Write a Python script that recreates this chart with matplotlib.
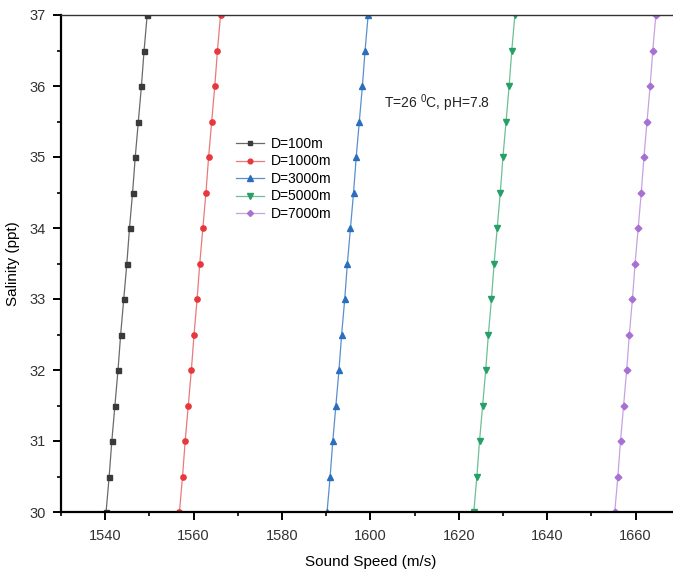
import matplotlib
matplotlib.use("Agg")
import matplotlib.pyplot as plt
from matplotlib.ticker import MultipleLocator

plt.rcParams['font.family'] = ['Liberation Sans', 'DejaVu Sans']
plt.rcParams['mathtext.fontset'] = 'custom'
plt.rcParams['mathtext.rm'] = 'Liberation Sans'
plt.rcParams['mathtext.it'] = 'Liberation Sans'

salinity = [30.0, 30.5, 31.0, 31.5, 32.0, 32.5, 33.0, 33.5, 34.0, 34.5, 35.0, 35.5, 36.0, 36.5, 37.0]
speed_100 = [1540.2, 1540.9, 1541.5, 1542.2, 1542.9, 1543.5, 1544.2, 1544.9, 1545.5, 1546.2, 1546.8, 1547.5, 1548.2, 1548.8, 1549.5]
speed_1000 = [1556.8, 1557.5, 1558.1, 1558.8, 1559.5, 1560.1, 1560.8, 1561.4, 1562.1, 1562.8, 1563.4, 1564.1, 1564.8, 1565.4, 1566.1]
speed_3000 = [1590.2, 1590.9, 1591.5, 1592.2, 1592.9, 1593.5, 1594.2, 1594.8, 1595.5, 1596.2, 1596.8, 1597.5, 1598.2, 1598.8, 1599.5]
speed_5000 = [1623.4, 1624.1, 1624.7, 1625.4, 1626.1, 1626.7, 1627.4, 1628.0, 1628.7, 1629.4, 1630.0, 1630.7, 1631.4, 1632.0, 1632.7]
speed_7000 = [1655.3, 1656.0, 1656.6, 1657.3, 1658.0, 1658.6, 1659.3, 1659.9, 1660.6, 1661.3, 1661.9, 1662.6, 1663.3, 1663.9, 1664.6]
labels = ['D=100m', 'D=1000m', 'D=3000m', 'D=5000m', 'D=7000m']
annotation = r'T=26 $^{\mathrm{0}}$C, pH=7.8'

series = [speed_100, speed_1000, speed_3000, speed_5000, speed_7000]
colors = ['#3a3a3a', '#e8373c', '#2a6ebd', '#27a067', '#a770d2']
line_colors = ['#6a6a6a', '#e87a7d', '#5a8fcc', '#6cbf97', '#c5a2e2']
markers = ['s', 'o', '^', 'v', 'D']
msizes = [3.6, 3.8, 4.4, 4.4, 3.4]

fig = plt.figure(figsize=(6.73, 5.73), dpi=100)
ax = fig.add_axes([61/673, 1 - 512/573, 1 - 61/673 + 0.01, (512 - 15)/573])

for s, c, lc, m, ms, lab in zip(series, colors, line_colors, markers, msizes, labels):
    ax.plot(s, salinity, color=lc, lw=0.9, marker=m, markersize=ms,
            markerfacecolor=c, markeredgecolor=c, label=lab)

ax.set_xlim(1530, 1670)
ax.set_ylim(30, 37)
ax.xaxis.set_major_locator(MultipleLocator(20))
ax.xaxis.set_minor_locator(MultipleLocator(10))
ax.yaxis.set_major_locator(MultipleLocator(1))
ax.yaxis.set_minor_locator(MultipleLocator(0.5))

ax.spines['right'].set_visible(False)
ax.spines['top'].set_linewidth(1.0)
ax.spines['top'].set_color('#333333')
ax.spines['left'].set_linewidth(1.6)
ax.spines['bottom'].set_linewidth(1.6)
ax.tick_params(which='major', direction='out', length=6, width=1.4, labelsize=10.5,
               labelcolor='#333333', top=False, right=False, pad=5)
ax.tick_params(which='minor', direction='out', length=3, width=1.2, top=False, right=False)
ax.tick_params(axis='x', which='major', pad=6)

ax.set_xlabel('Sound Speed (m/s)', fontsize=11, labelpad=9)
ax.set_ylabel('Salinity (ppt)', fontsize=11, labelpad=7)

ax.text((380 - 61) / 612, (512 - 103) / 497, annotation, transform=ax.transAxes,
        fontsize=10, va='center', ha='left', color='#222222')

ax.legend(loc='upper left', bbox_to_anchor=((234 - 61) / 612, (512 - 137) / 497),
          frameon=False, fontsize=10, handlelength=2.0, handletextpad=0.5,
          labelspacing=0.25, borderpad=0, borderaxespad=0, markerscale=0.9)

fig.savefig('out.png', dpi=100)
